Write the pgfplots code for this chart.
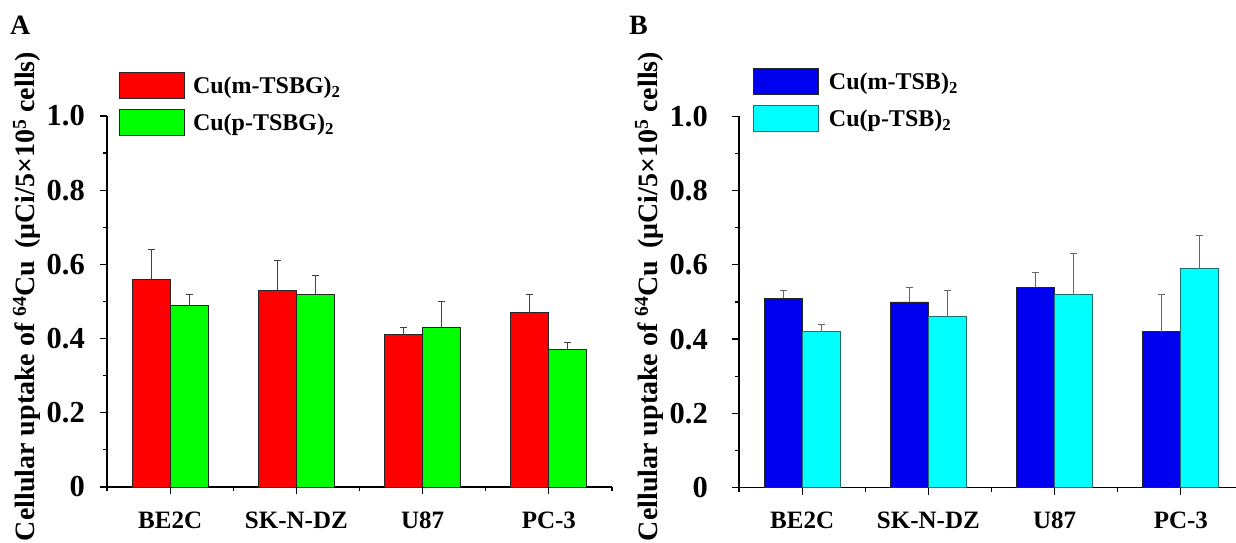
\documentclass[border=0pt]{standalone}
\usepackage{fontspec}
\setmainfont{Liberation Serif}[BoldFont={Liberation Serif Bold}]
\usepackage{pgfplots}
\pgfplotsset{compat=1.18}

\definecolor{cred}{RGB}{255,0,0}
\definecolor{cgreen}{RGB}{0,255,0}
\definecolor{cblue}{RGB}{0,0,240}
\definecolor{ccyan}{RGB}{0,255,255}
\definecolor{cteal}{RGB}{30,110,110}

\pgfplotsset{
  panel/.style={
    scale only axis, width=505pt, height=371pt,
    xmin=-0.5, xmax=3.5, ymin=0, ymax=1,
    axis lines=left, axis line style={-, line width=1.2pt},
    clip=false,
    /pgf/number format/assume math mode=true,
    xtick={0,1,2,3}, xticklabels={BE2C,SK-N-DZ,U87,PC-3},
    minor xtick={-0.5,0.5,1.5,2.5,3.5},
    ytick={0,0.2,0.4,0.6,0.8,1.0}, yticklabels={0,0.2,0.4,0.6,0.8,1.0},
    minor ytick={0.1,0.3,0.5,0.7,0.9},
    tick align=outside, major tick length=7pt, minor tick length=4pt,
    tick style={line width=1.2pt, black},
    xticklabel style={font=\fontsize{25}{25}\selectfont\bfseries, anchor=base, inner sep=0pt},
    xticklabel shift=34pt,
    yticklabel style={font=\fontsize{30.5}{30.5}\selectfont\bfseries, anchor=east, inner sep=0pt},
    ybar=0pt, bar width=38pt,
    legend cell align=left,
    legend image code/.code={\draw[#1] (0pt,-13pt) rectangle (65pt,13pt);},
    error bars/y dir=plus, error bars/y explicit,
    error bars/error bar style={line width=1pt, black!75},
    error bars/error mark options={rotate=90, mark size=3.5pt, line width=1pt, black!75},
  },
}

\begin{document}
\begin{tikzpicture}[x=1pt,y=1pt]
\useasboundingbox (0,0) rectangle (1236,543);

% Panel A
\begin{axis}[panel, at={(107pt,56pt)}, anchor=south west,
  yticklabel shift=15pt,
  legend style={at={(0.0238,1.1186)}, anchor=north west, draw=none, fill=none, inner sep=0pt,
    row sep=10pt, /tikz/every odd column/.append style={column sep=8pt},
    nodes={inner sep=0pt, text height=18pt, text depth=2pt, font=\fontsize{24}{24}\selectfont\bfseries}}]
\addplot[fill=cred, draw=black!85, line width=0.8pt] coordinates {
  (0,0.56) +- (0,0.08)
  (1,0.53) +- (0,0.08)
  (2,0.41) +- (0,0.02)
  (3,0.47) +- (0,0.05)
};
\addlegendentry{Cu(m-TSBG)\textsubscript{2}}
\addplot[fill=cgreen, draw=black!85, line width=0.8pt] coordinates {
  (0,0.49) +- (0,0.03)
  (1,0.52) +- (0,0.05)
  (2,0.43) +- (0,0.07)
  (3,0.37) +- (0,0.02)
};
\addlegendentry{Cu(p-TSBG)\textsubscript{2}}
\end{axis}

% Panel B
\begin{axis}[panel, at={(739pt,55.5pt)}, anchor=south west,
  yticklabel shift=24pt,
  error bars/error bar style={line width=1pt, black!60},
  error bars/error mark options={rotate=90, mark size=3.5pt, line width=1pt, black!60},
  legend style={at={(0.0277,1.1307)}, anchor=north west, draw=none, fill=none, inner sep=0pt,
    row sep=10pt, /tikz/every odd column/.append style={column sep=10pt},
    nodes={inner sep=0pt, text height=18pt, text depth=2pt, font=\fontsize{24}{24}\selectfont\bfseries}}]
\addplot[fill=cblue, draw=black!85, line width=0.8pt] coordinates {
  (0,0.51) +- (0,0.02)
  (1,0.50) +- (0,0.04)
  (2,0.54) +- (0,0.04)
  (3,0.42) +- (0,0.10)
};
\addlegendentry{Cu(m-TSB)\textsubscript{2}}
\addplot[fill=ccyan, draw=cteal, line width=0.8pt] coordinates {
  (0,0.42) +- (0,0.02)
  (1,0.46) +- (0,0.07)
  (2,0.52) +- (0,0.11)
  (3,0.59) +- (0,0.09)
};
\addlegendentry{Cu(p-TSB)\textsubscript{2}}
\end{axis}

% y labels and panel letters
\node[rotate=90, anchor=base, inner sep=0pt, font=\fontsize{28}{28}\selectfont\bfseries]
  at (35,246.5) {Cellular uptake of \textsuperscript{64}Cu\, (μCi/5×10\textsuperscript{5} cells)};
\node[rotate=90, anchor=base, inner sep=0pt, font=\fontsize{28}{28}\selectfont\bfseries]
  at (657,246.5) {Cellular uptake of \textsuperscript{64}Cu\, (μCi/5×10\textsuperscript{5} cells)};
\node[anchor=base west, inner sep=0pt, font=\fontsize{28}{28}\selectfont\bfseries] at (10,508) {A};
\node[anchor=base west, inner sep=0pt, font=\fontsize{28}{28}\selectfont\bfseries] at (629,508) {B};
\end{tikzpicture}
\end{document}
